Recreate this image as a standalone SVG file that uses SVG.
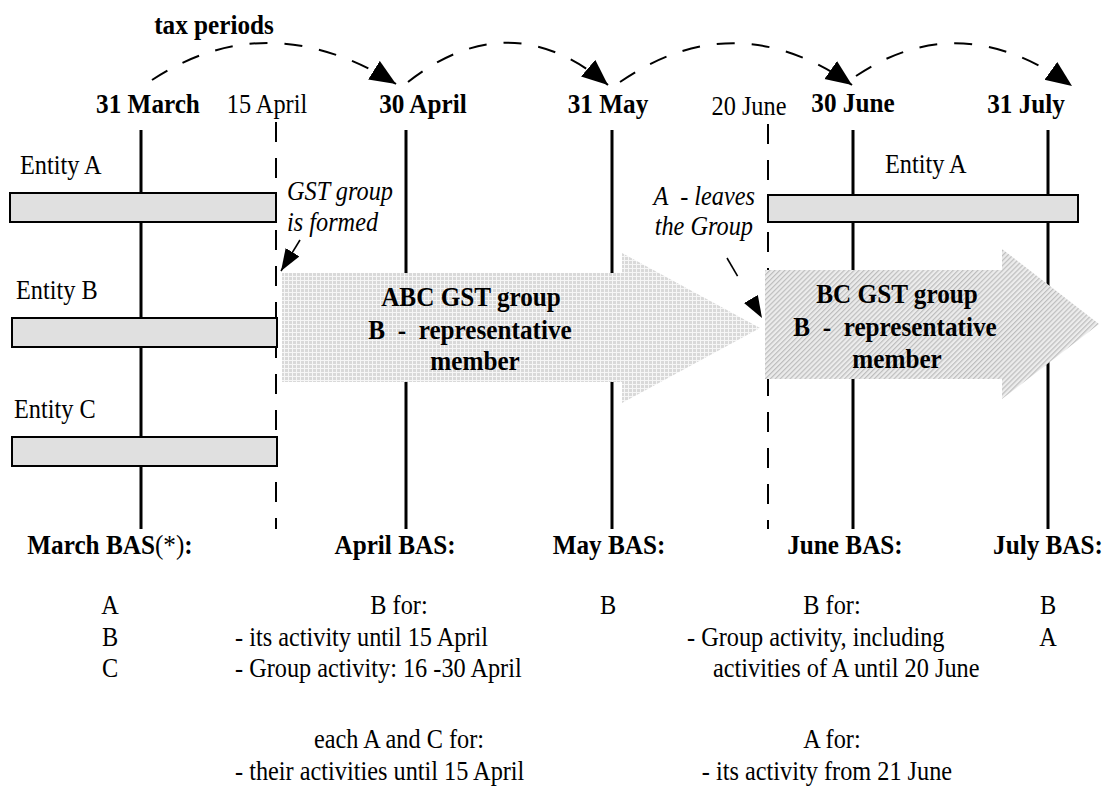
<svg xmlns="http://www.w3.org/2000/svg" width="1107" height="787" viewBox="0 0 1107 787">
<style>
.t{font-family:"Liberation Serif","Times New Roman",serif;fill:#000}
.r{font-size:27px}
.b{font-size:28px;font-weight:bold}
.i{font-size:27px;font-style:italic}
.m{text-anchor:middle}
.e{text-anchor:end}
.pre{white-space:pre}
.sol{stroke:#000;stroke-width:3;fill:none}
.dsh{stroke:#000;stroke-width:2;fill:none;stroke-dasharray:20 16}
.bar{fill:#e0e0e0;stroke:#000;stroke-width:2}
.arc{stroke:#000;stroke-width:2;fill:none;stroke-dasharray:18 17}
.ann{stroke:#000;stroke-width:1.6;fill:none}
</style>
<defs>
<pattern id="grid" width="4" height="4" patternUnits="userSpaceOnUse">
<rect width="4" height="4" fill="#d9d9d9"/>
<rect width="4" height="1" fill="#f6f6f6"/>
<rect width="1" height="4" fill="#f6f6f6"/>
</pattern>
<pattern id="hatch" width="3.5" height="3.5" patternUnits="userSpaceOnUse" patternTransform="rotate(45)">
<rect width="3.5" height="3.5" fill="#ececec"/>
<rect width="1.2" height="3.5" fill="#bdbdbd"/>
</pattern>
<marker id="ah" markerUnits="userSpaceOnUse" markerWidth="30" markerHeight="24" refX="26" refY="11" orient="auto">
<path d="M0,0 L26,11 L0,22 z" fill="#000"/>
</marker>
<marker id="ahs" markerUnits="userSpaceOnUse" markerWidth="24" markerHeight="20" refX="22" refY="8" orient="auto">
<path d="M0,0 L22,8 L0,16 z" fill="#000"/>
</marker>
</defs>
<rect width="1107" height="787" fill="#fff"/>

<g id="timelines">
<line class="sol" x1="141" y1="130" x2="141" y2="529"/>
<line class="dsh" x1="276" y1="122" x2="276" y2="529"/>
<line class="sol" x1="406" y1="130" x2="406" y2="529"/>
<line class="sol" x1="612" y1="130" x2="612" y2="529"/>
<line class="dsh" x1="768" y1="124" x2="768" y2="529"/>
<line class="sol" x1="853" y1="130" x2="853" y2="529"/>
<line class="sol" x1="1048" y1="130" x2="1048" y2="529"/>
</g>

<g id="title">
<text class="t b m" transform="translate(214,34) scale(0.9,1)">tax periods</text>
</g>

<g id="dates">
<text class="t b m" transform="translate(148,113) scale(0.9,1)">31 March</text>
<text class="t r m" transform="translate(267,113) scale(0.9,1)">15 April</text>
<text class="t b m" transform="translate(423,113) scale(0.9,1)">30 April</text>
<text class="t b m" transform="translate(608,113) scale(0.9,1)">31 May</text>
<text class="t r m" transform="translate(749,115) scale(0.9,1)">20 June</text>
<text class="t b m" transform="translate(853,112) scale(0.9,1)">30 June</text>
<text class="t b m" transform="translate(1026,113) scale(0.9,1)">31 July</text>
</g>

<g id="entityA">
<text class="t r" transform="translate(20,174) scale(0.9,1)">Entity A</text>
<rect class="bar" x="10" y="193" width="266" height="29"/>
</g>
<g id="entityB">
<text class="t r" transform="translate(16,299) scale(0.9,1)">Entity B</text>
<rect class="bar" x="12" y="318" width="265" height="29"/>
</g>
<g id="entityC">
<text class="t r" transform="translate(14,418) scale(0.9,1)">Entity C</text>
<rect class="bar" x="12" y="437" width="265" height="29"/>
</g>
<g id="entityA2">
<text class="t r" transform="translate(885,173) scale(0.9,1)">Entity A</text>
<rect class="bar" x="768" y="195" width="310" height="27"/>
</g>

<g id="abcGroup">
<path d="M282,273 L622,273 L622,253 L760,328 L622,403 L622,382 L282,382 Z" fill="url(#grid)"/>
<text class="t b m" transform="translate(471,306) scale(0.9,1)">ABC GST group</text>
<text class="t b m pre" transform="translate(470,339) scale(0.9,1)">B  -  representative</text>
<text class="t b m" transform="translate(475,370) scale(0.9,1)">member</text>
</g>

<g id="bcGroup">
<path d="M765,270 L1002,270 L1002,249 L1099,324 L1002,399 L1002,379 L765,379 Z" fill="url(#hatch)"/>
<text class="t b m" transform="translate(897,303) scale(0.9,1)">BC GST group</text>
<text class="t b m pre" transform="translate(895,336) scale(0.9,1)">B  -  representative</text>
<text class="t b m" transform="translate(897,368) scale(0.9,1)">member</text>
</g>

<g id="noteFormed">
<text class="t i" transform="translate(287,200) scale(0.9,1)">GST group</text>
<text class="t i" transform="translate(287,231) scale(0.9,1)">is formed</text>
</g>
<g id="noteLeaves">
<text class="t i e pre" transform="translate(755,205) scale(0.9,1)">A  - leaves</text>
<text class="t i e" transform="translate(753,235) scale(0.9,1)">the Group</text>
</g>

<g id="connectors">
<path class="arc" d="M152,80 Q268,4 396,84" marker-end="url(#ah)"/>
<path class="arc" d="M408,82 Q510,2 608,85" marker-end="url(#ah)"/>
<path class="arc" d="M620,82 Q735,3 852,85" marker-end="url(#ah)"/>
<path class="arc" d="M856,76 Q960,6 1072,86" marker-end="url(#ah)"/>
<path class="ann" d="M300,240 L281,271" marker-end="url(#ahs)"/>
<path class="ann" d="M727,258 L762,318" stroke-dasharray="21 200" marker-end="url(#ahs)"/>
</g>

<g id="marchBAS">
<text class="t b m" transform="translate(110,554) scale(0.9,1)">March BAS<tspan font-weight="normal">(*)</tspan>:</text>
<text class="t r m" transform="translate(110,614) scale(0.9,1)">A</text>
<text class="t r m" transform="translate(110,646) scale(0.9,1)">B</text>
<text class="t r m" transform="translate(110,677) scale(0.9,1)">C</text>
</g>
<g id="aprilBAS">
<text class="t b m" transform="translate(395,554) scale(0.9,1)">April BAS:</text>
<text class="t r m" transform="translate(399,614) scale(0.9,1)">B for:</text>
<text class="t r" transform="translate(235,646) scale(0.9,1)">- its activity until 15 April</text>
<text class="t r" transform="translate(235,677) scale(0.9,1)">- Group activity: 16 -30 April</text>
<text class="t r m" transform="translate(399,748) scale(0.9,1)">each A and C for:</text>
<text class="t r" transform="translate(235,780) scale(0.9,1)">- their activities until 15 April</text>
</g>
<g id="mayBAS">
<text class="t b m" transform="translate(609,554) scale(0.9,1)">May BAS:</text>
<text class="t r m" transform="translate(608,614) scale(0.9,1)">B</text>
</g>
<g id="juneBAS">
<text class="t b m" transform="translate(845,554) scale(0.9,1)">June BAS:</text>
<text class="t r m" transform="translate(832,614) scale(0.9,1)">B for:</text>
<text class="t r" transform="translate(687,646) scale(0.9,1)">- Group activity, including</text>
<text class="t r" transform="translate(713,677) scale(0.9,1)">activities of A until 20 June</text>
<text class="t r m" transform="translate(832,748) scale(0.9,1)">A for:</text>
<text class="t r m" transform="translate(827,780) scale(0.9,1)">- its activity from 21 June</text>
</g>
<g id="julyBAS">
<text class="t b m" transform="translate(1048,554) scale(0.9,1)">July BAS:</text>
<text class="t r m" transform="translate(1048,614) scale(0.9,1)">B</text>
<text class="t r m" transform="translate(1048,646) scale(0.9,1)">A</text>
</g>
</svg>
